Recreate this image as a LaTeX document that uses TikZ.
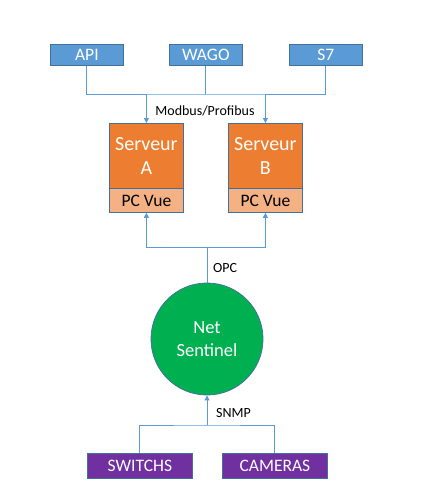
\documentclass[tikz,border=0pt]{standalone}
\usepackage{fontspec}
\setmainfont{Carlito}
\usetikzlibrary{arrows.meta}
\definecolor{cblue}{HTML}{5B9BD5}
\definecolor{cborder}{HTML}{41719C}
\definecolor{corange}{HTML}{ED7D31}
\definecolor{clorange}{HTML}{F4B183}
\definecolor{cgreen}{HTML}{00B050}
\definecolor{cpurple}{HTML}{7030A0}
\tikzset{
  box/.style={draw=cborder, line width=0.8pt, inner sep=0pt, anchor=north west, text=white},
  srcbox/.style={box, fill=cblue, minimum width=73pt, minimum height=21pt, font=\fontsize{17.5}{19}\selectfont},
  srvbox/.style={box, fill=corange, minimum width=74pt, minimum height=65pt, align=center, font=\fontsize{20}{24}\selectfont},
  pcbox/.style={box, fill=clorange, text=black, minimum width=74pt, minimum height=24pt, font=\fontsize{17.5}{19}\selectfont},
  devbox/.style={box, fill=cpurple, minimum width=105pt, minimum height=25pt, font=\fontsize{17.5}{19}\selectfont},
  link/.style={draw=cblue, line width=0.9pt},
  arr/.style={link, -{Triangle[length=5pt,width=5pt]}},
  lbl/.style={font=\fontsize{14}{15}\selectfont, text=black, inner sep=0pt},
}
\begin{document}
\begin{tikzpicture}[x=1pt,y=-1pt]
\useasboundingbox (0,0) rectangle (446,501);
% top sources
\node[srcbox] (api) at (50,44) {API};
\node[srcbox] (wago) at (169,44) {WAGO};
\node[srcbox] (s7) at (289,44) {S7};
% servers
\node[srvbox] (srvA) at (109,123) {Serveur\\A};
\node[pcbox] (pcA) at (109,188) {PC Vue};
\node[srvbox] (srvB) at (228,123) {Serveur\\B};
\node[pcbox] (pcB) at (228,188) {PC Vue};
% net sentinel
\node[circle, draw=cborder, line width=0.8pt, fill=cgreen, minimum size=112pt, inner sep=0pt, text=white, align=center, font=\fontsize{18.5}{23}\selectfont] (ns) at (207,339) {Net\\Sentinel};
% devices
\node[devbox] (sw) at (87,453) {SWITCHS};
\node[devbox] (cam) at (222,453) {CAMERAS};
% coordinates of buses
\coordinate (topbus) at (206,94);
\coordinate (midbus) at (207,247);
\coordinate (botbus) at (207,425);
% top bus
\draw[link] (api.south) |- (topbus) -| (s7.south);
\draw[link] (wago.south) -- (wago.south |- topbus);
\draw[arr] (srvA.north |- topbus) -- (srvA.north);
\draw[arr] (srvB.north |- topbus) -- (srvB.north);
\node[lbl] (modbus) at (205,111) {Modbus/Profibus};
% middle bus
\draw[link] (ns.north) -- (midbus);
\draw[arr] (midbus) -| (pcA.south);
\draw[arr] (midbus) -| (pcB.south);
\node[lbl, anchor=west] (opc) at (213,268) {OPC};
% bottom bus
\draw[link] (sw.north) |- (botbus) -| (cam.north);
\draw[arr] (botbus) -- (ns.south);
\node[lbl, anchor=west] (snmp) at (216,413) {SNMP};
\end{tikzpicture}
\end{document}
